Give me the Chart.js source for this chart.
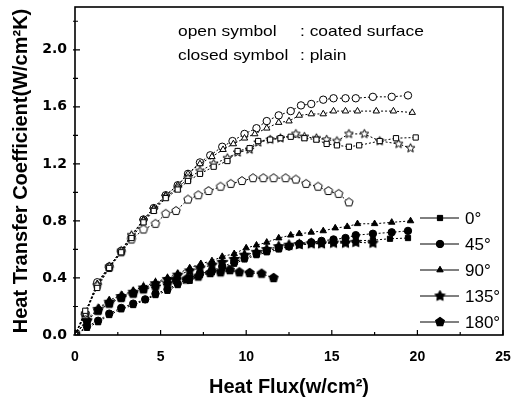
<!DOCTYPE html>
<html>
<head>
<meta charset="utf-8">
<script src="https://cdn.jsdelivr.net/npm/chart.js@4.4.1/dist/chart.umd.min.js"></script>
<style>
  body { margin: 0; background: #fff; }
</style>
</head>
<body>
<canvas id="chart" width="514" height="403"></canvas>
<script>
// axis ticks
const xTickValues = [0, 5, 10, 15, 20, 25];
const yTickValues = [0.0, 0.4, 0.8, 1.2, 1.6, 2.0];
const angleLabels = ["0°", "45°", "90°", "135°", "180°"];

// plain surface (closed symbols)
const plain0X = [0, 0.7, 1.35, 2.0, 2.7, 3.4, 4.1, 4.7, 5.4, 6.0, 6.7, 7.3, 8.0, 8.6, 9.3, 9.9, 10.6, 11.2, 11.9, 12.5, 13.1, 13.8, 14.4, 15.1, 15.8, 16.4, 17.4, 18.4, 19.45];
const plain0Y = [0, 0.05, 0.09, 0.14, 0.18, 0.21, 0.245, 0.28, 0.31, 0.35, 0.38, 0.42, 0.44, 0.47, 0.50, 0.53, 0.56, 0.58, 0.60, 0.62, 0.63, 0.64, 0.645, 0.65, 0.655, 0.66, 0.665, 0.675, 0.68];
const plain45X = [0, 0.7, 1.35, 2.0, 2.7, 3.4, 4.1, 4.7, 5.4, 6.0, 6.7, 7.3, 8.0, 8.6, 9.3, 9.9, 10.6, 11.2, 11.9, 12.5, 13.1, 13.8, 14.4, 15.1, 15.8, 16.4, 17.4, 18.5, 19.45];
const plain45Y = [0, 0.06, 0.10, 0.15, 0.19, 0.22, 0.25, 0.29, 0.32, 0.36, 0.40, 0.43, 0.45, 0.48, 0.51, 0.54, 0.57, 0.59, 0.61, 0.62, 0.64, 0.65, 0.66, 0.67, 0.68, 0.70, 0.71, 0.72, 0.73];
const plain90X = [0, 0.7, 1.4, 2.0, 2.75, 3.4, 4.0, 4.7, 5.4, 6.0, 6.7, 7.35, 8.0, 8.6, 9.3, 10.0, 10.6, 11.2, 11.9, 12.6, 13.1, 13.8, 14.5, 15.2, 15.9, 16.5, 17.5, 18.5, 19.6];
const plain90Y = [0, 0.11, 0.19, 0.245, 0.28, 0.31, 0.34, 0.37, 0.40, 0.43, 0.47, 0.50, 0.52, 0.55, 0.57, 0.61, 0.63, 0.65, 0.68, 0.70, 0.71, 0.72, 0.73, 0.75, 0.76, 0.78, 0.78, 0.79, 0.80];
const plain135X = [0, 0.7, 1.35, 2.0, 2.7, 3.4, 4.0, 4.7, 5.4, 6.0, 6.7, 7.3, 8.0, 8.6, 9.3, 9.9, 10.6, 11.2, 11.9, 12.5, 13.1, 13.8, 14.4, 15.1, 15.8, 16.4, 17.4];
const plain135Y = [0, 0.10, 0.18, 0.23, 0.27, 0.30, 0.33, 0.36, 0.39, 0.42, 0.45, 0.47, 0.49, 0.51, 0.53, 0.56, 0.58, 0.60, 0.62, 0.63, 0.635, 0.64, 0.64, 0.645, 0.645, 0.65, 0.645];
const plain180X = [0, 0.7, 1.35, 2.0, 2.7, 3.4, 4.0, 4.7, 5.4, 5.9, 6.5, 7.2, 7.9, 8.5, 9.05, 9.6, 10.2, 10.9, 11.6];
const plain180Y = [0, 0.10, 0.17, 0.22, 0.26, 0.29, 0.32, 0.34, 0.36, 0.385, 0.39, 0.41, 0.435, 0.44, 0.455, 0.44, 0.435, 0.43, 0.40];

// coated surface (open symbols)
const coated0X = [0, 0.6, 1.3, 2.0, 2.7, 3.3, 4.0, 4.6, 5.3, 6.0, 6.6, 7.3, 8.1, 8.9, 9.5, 10.2, 10.7, 11.4, 12.0, 12.6, 13.4, 14.1, 14.7, 15.3, 16.0, 16.6, 17.8, 18.75, 19.9];
const coated0Y = [0, 0.17, 0.33, 0.47, 0.58, 0.68, 0.79, 0.87, 0.96, 1.02, 1.08, 1.13, 1.18, 1.22, 1.29, 1.31, 1.36, 1.37, 1.38, 1.39, 1.38, 1.37, 1.34, 1.33, 1.32, 1.33, 1.36, 1.38, 1.385];
const coated45X = [0, 0.6, 1.3, 2.0, 2.7, 3.3, 4.0, 4.6, 5.3, 6.0, 6.6, 7.3, 7.9, 8.6, 9.2, 9.9, 10.6, 11.2, 11.9, 12.6, 13.2, 13.8, 14.5, 15.1, 15.8, 16.4, 17.4, 18.5, 19.45];
const coated45Y = [0, 0.15, 0.37, 0.48, 0.59, 0.69, 0.81, 0.89, 0.98, 1.05, 1.13, 1.21, 1.26, 1.32, 1.36, 1.41, 1.45, 1.50, 1.54, 1.57, 1.61, 1.62, 1.65, 1.66, 1.66, 1.66, 1.67, 1.67, 1.68];
const coated90X = [0, 0.6, 1.3, 2.0, 2.7, 3.3, 4.0, 4.6, 5.3, 6.0, 6.6, 7.3, 8.0, 8.65, 9.25, 9.9, 10.5, 11.2, 11.9, 12.5, 13.1, 13.8, 14.5, 15.1, 15.8, 16.5, 17.6, 18.6, 19.7];
const coated90Y = [0, 0.16, 0.36, 0.48, 0.59, 0.70, 0.81, 0.89, 0.98, 1.05, 1.13, 1.20, 1.25, 1.30, 1.34, 1.38, 1.41, 1.45, 1.49, 1.50, 1.54, 1.55, 1.55, 1.57, 1.57, 1.57, 1.57, 1.57, 1.56];
const coated135X = [0, 0.6, 1.3, 2.0, 2.7, 3.3, 4.0, 4.6, 5.3, 6.0, 6.6, 7.3, 8.1, 8.9, 9.5, 10.2, 10.7, 11.4, 12.0, 12.9, 13.4, 14.1, 14.7, 15.3, 16.0, 16.9, 17.8, 18.9, 19.6];
const coated135Y = [0, 0.15, 0.35, 0.48, 0.59, 0.70, 0.80, 0.88, 0.97, 1.03, 1.10, 1.15, 1.20, 1.24, 1.28, 1.30, 1.35, 1.37, 1.38, 1.41, 1.39, 1.38, 1.37, 1.36, 1.41, 1.41, 1.36, 1.34, 1.31];
const coated180X = [0, 0.6, 1.3, 2.0, 2.7, 3.3, 4.0, 4.7, 5.3, 5.9, 6.6, 7.2, 7.8, 8.5, 9.1, 9.75, 10.4, 11.0, 11.6, 12.3, 12.9, 13.5, 14.2, 14.8, 15.4, 16.0];
const coated180Y = [0, 0.14, 0.35, 0.47, 0.58, 0.67, 0.74, 0.78, 0.85, 0.87, 0.95, 0.98, 1.01, 1.04, 1.06, 1.08, 1.10, 1.10, 1.10, 1.10, 1.09, 1.06, 1.04, 1.01, 0.99, 0.93];

const FONT = "'Liberation Sans', Arial, sans-serif";

// custom marker shapes (5-point star, pentagon)
function makeMarker(kind, filled, r) {
  const size = Math.ceil(r * 2 + 3);
  const c = document.createElement("canvas");
  c.width = size; c.height = size;
  const ctx = c.getContext("2d");
  const cx = size / 2, cy = size / 2;
  ctx.beginPath();
  if (kind === "star") {
    const inner = filled ? 0.55 : 0.45;
    for (let i = 0; i < 10; i++) {
      const rr = i % 2 === 0 ? r : r * inner;
      const a = -Math.PI / 2 + i * Math.PI / 5;
      ctx.lineTo(cx + rr * Math.cos(a), cy + rr * Math.sin(a));
    }
  } else {
    for (let i = 0; i < 5; i++) {
      const a = -Math.PI / 2 + i * 2 * Math.PI / 5;
      ctx.lineTo(cx + r * Math.cos(a), cy + r * Math.sin(a));
    }
  }
  ctx.closePath();
  ctx.fillStyle = filled ? "#000" : "#fff";
  ctx.fill();
  ctx.lineWidth = filled ? 1.4 : 1;
  ctx.strokeStyle = "#000";
  ctx.stroke();
  return c;
}

const starOpen = makeMarker("star", false, 4.6);
const starClosed = makeMarker("star", true, 4.8);
const pentOpen = makeMarker("pent", false, 4.4);
const pentClosed = makeMarker("pent", true, 4.4);

function pts(xs, ys) { return xs.map((x, i) => ({ x: x, y: ys[i] })); }

function series(label, xs, ys, style, filled) {
  return {
    label: label,
    data: pts(xs, ys),
    showLine: true,
    borderColor: "#000",
    borderWidth: 1,
    borderDash: [2, 2],
    pointStyle: style,
    pointRadius: 3.7,
    pointBorderWidth: 1,
    pointBorderColor: "#000",
    pointBackgroundColor: filled ? "#000" : "#fff",
    fill: false
  };
}

const datasets = [
  series("0° coated", coated0X, coated0Y, "rect", false),
  series("135° coated", coated135X, coated135Y, starOpen, false),
  series("90° coated", coated90X, coated90Y, "triangle", false),
  series("45° coated", coated45X, coated45Y, "circle", false),
  series("180° coated", coated180X, coated180Y, pentOpen, false),
  series("0°", plain0X, plain0Y, "rect", true),
  series("45°", plain45X, plain45Y, "circle", true),
  series("135°", plain135X, plain135Y, starClosed, true),
  series("180°", plain180X, plain180Y, pentClosed, true),
  series("90°", plain90X, plain90Y, "triangle", true)
];

const legendStyles = ["rect", "circle", "triangle", starClosed, pentClosed];

function wideText(ctx, text, x, y, sx) {
  ctx.save();
  ctx.translate(x, y);
  ctx.scale(sx, 1);
  ctx.fillText(text, 0, 0);
  ctx.restore();
}

const decorPlugin = {
  id: "decor",
  afterDraw(chart) {
    const ctx = chart.ctx;
    const a = chart.chartArea;
    const xs = chart.scales.x, ys = chart.scales.y;
    ctx.save();
    // frame
    ctx.strokeStyle = "#000";
    ctx.lineWidth = 1.6;
    ctx.strokeRect(a.left, a.top, a.right - a.left, a.bottom - a.top);
    // inward ticks
    ctx.lineWidth = 1.2;
    ctx.beginPath();
    for (let v = 0; v <= 25; v += 2.5) {
      const px = xs.getPixelForValue(v);
      const len = (v % 5 === 0) ? 5 : 3;
      ctx.moveTo(px, a.bottom); ctx.lineTo(px, a.bottom - len);
    }
    for (let k = 0; k <= 11; k++) {
      const v = k * 0.2;
      const py = ys.getPixelForValue(v);
      const len = (k % 2 === 0) ? 5 : 3;
      ctx.moveTo(a.left - 2, py); ctx.lineTo(a.left + len, py);
    }
    ctx.stroke();

    // annotation text
    ctx.fillStyle = "#000";
    ctx.font = "15px " + FONT;
    ctx.textBaseline = "alphabetic";
    ctx.textAlign = "left";
    const tx = a.left + 103, cx = a.left + 225;
    wideText(ctx, "open symbol", tx, a.top + 29, 1.16);
    wideText(ctx, ": coated surface", cx, a.top + 29, 1.16);
    wideText(ctx, "closed symbol", tx, a.top + 53, 1.16);
    wideText(ctx, ": plain", cx, a.top + 53, 1.16);

    // legend (closed symbols)
    const lx = a.right - 83;
    ctx.font = "17px " + FONT;
    ctx.textBaseline = "middle";
    angleLabels.forEach((lab, i) => {
      const y = a.bottom - 117 + i * 26;
      ctx.setLineDash([]);
      ctx.lineWidth = 1;
      ctx.beginPath();
      ctx.moveTo(lx, y); ctx.lineTo(lx + 39, y);
      ctx.stroke();
      Chart.helpers.drawPoint(ctx, {
        pointStyle: legendStyles[i], radius: 3.7, rotation: 0, borderWidth: 1
      }, lx + 20, y);
      ctx.fillStyle = "#000";
      ctx.fill();
      ctx.fillText(lab, lx + 45, y + 1);
    });
    ctx.restore();
  }
};

new Chart(document.getElementById("chart"), {
  type: "scatter",
  data: { datasets: datasets },
  options: {
    responsive: false,
    animation: false,
    devicePixelRatio: 1,
    layout: { padding: { top: 7, right: 11, left: 0, bottom: 0 } },
    plugins: {
      legend: { display: false },
      tooltip: { enabled: false }
    },
    scales: {
      x: {
        type: "linear",
        min: 0, max: 25,
        afterFit(s) { s.height = 68; s.paddingLeft = 0; s.paddingRight = 0; },
        afterBuildTicks(s) { s.ticks = xTickValues.map(v => ({ value: v })); },
        grid: { display: false, drawTicks: false },
        border: { display: false },
        ticks: {
          padding: 14,
          color: "#000",
          font: { family: FONT, size: 14, weight: "bold" },
          maxRotation: 0
        },
        title: {
          display: true,
          text: "Heat Flux(w/cm²)",
          color: "#000",
          font: { family: FONT, size: 20, weight: "bold" },
          padding: { top: 6 }
        }
      },
      y: {
        type: "linear",
        min: 0, max: 2.3,
        afterFit(s) { s.width = 75; s.paddingTop = 0; s.paddingBottom = 0; },
        afterBuildTicks(s) { s.ticks = yTickValues.map(v => ({ value: v })); },
        grid: { display: false, drawTicks: false },
        border: { display: false },
        ticks: {
          padding: 8,
          color: "#000",
          font: { family: "'DejaVu Sans', sans-serif", size: 14, weight: "bold" },
          callback: v => v.toFixed(1)
        },
        title: {
          display: true,
          text: "Heat Transfer Coefficient(W/cm²K)",
          color: "#000",
          font: { family: FONT, size: 20, weight: "bold" },
          padding: { top: 9, bottom: 2 }
        }
      }
    }
  },
  plugins: [decorPlugin]
});
</script>
</body>
</html>
